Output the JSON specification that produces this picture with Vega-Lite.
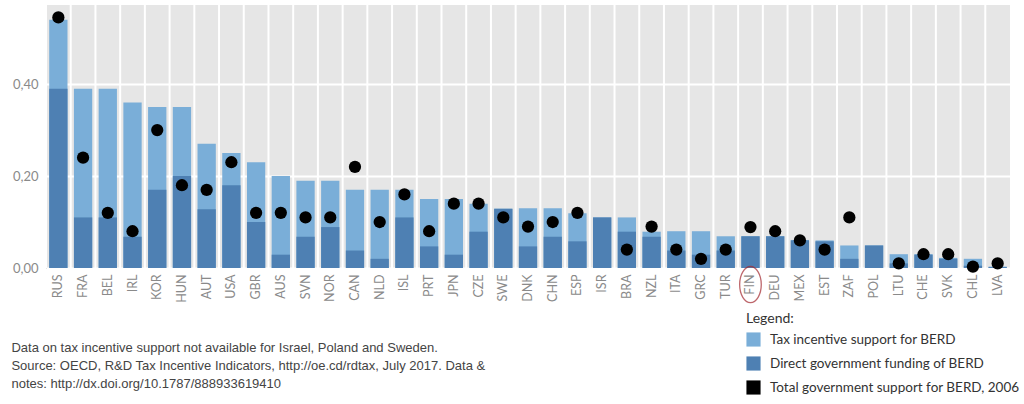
{
  "$schema": "https://vega.github.io/schema/vega-lite/v6.json",
  "autosize": {"type": "none"},
  "width": 964,
  "height": 263,
  "padding": {"left": 46, "top": 5, "right": 14, "bottom": 136},
  "background": "white",
  "config": {
    "view": {"fill": "#e6e6e6", "stroke": null},
    "font": "Lato"
  },
  "title": {
    "text": [
      "Data on tax incentive support not available for Israel, Poland and Sweden.",
      "Source: OECD, R&D Tax Incentive Indicators, http://oe.cd/rdtax, July 2017. Data &",
      "notes: http://dx.doi.org/10.1787/888933619410"
    ],
    "orient": "bottom",
    "anchor": "start",
    "dx": -1,
    "offset": -53,
    "font": "Liberation Sans",
    "fontSize": 13,
    "fontWeight": "normal",
    "color": "#444444",
    "lineHeight": 18
  },
  "data": {
    "values": [
      {"country": "RUS", "bar": 0.54, "direct": 0.39, "total2006": 0.545},
      {"country": "FRA", "bar": 0.39, "direct": 0.11, "total2006": 0.24},
      {"country": "BEL", "bar": 0.39, "direct": 0.11, "total2006": 0.12},
      {"country": "IRL", "bar": 0.36, "direct": 0.068, "total2006": 0.08},
      {"country": "KOR", "bar": 0.35, "direct": 0.17, "total2006": 0.30},
      {"country": "HUN", "bar": 0.35, "direct": 0.20, "total2006": 0.18},
      {"country": "AUT", "bar": 0.27, "direct": 0.128, "total2006": 0.17},
      {"country": "USA", "bar": 0.25, "direct": 0.18, "total2006": 0.23},
      {"country": "GBR", "bar": 0.23, "direct": 0.10, "total2006": 0.12},
      {"country": "AUS", "bar": 0.20, "direct": 0.029, "total2006": 0.12},
      {"country": "SVN", "bar": 0.19, "direct": 0.068, "total2006": 0.11},
      {"country": "NOR", "bar": 0.19, "direct": 0.089, "total2006": 0.11},
      {"country": "CAN", "bar": 0.17, "direct": 0.038, "total2006": 0.22},
      {"country": "NLD", "bar": 0.17, "direct": 0.02, "total2006": 0.10},
      {"country": "ISL", "bar": 0.17, "direct": 0.11, "total2006": 0.16},
      {"country": "PRT", "bar": 0.15, "direct": 0.047, "total2006": 0.08},
      {"country": "JPN", "bar": 0.15, "direct": 0.029, "total2006": 0.14},
      {"country": "CZE", "bar": 0.14, "direct": 0.079, "total2006": 0.14},
      {"country": "SWE", "bar": 0.129, "direct": 0.129, "total2006": 0.11},
      {"country": "DNK", "bar": 0.13, "direct": 0.047, "total2006": 0.09},
      {"country": "CHN", "bar": 0.13, "direct": 0.068, "total2006": 0.10},
      {"country": "ESP", "bar": 0.119, "direct": 0.058, "total2006": 0.12},
      {"country": "ISR", "bar": 0.11, "direct": 0.11, "total2006": null},
      {"country": "BRA", "bar": 0.11, "direct": 0.079, "total2006": 0.04},
      {"country": "NZL", "bar": 0.079, "direct": 0.068, "total2006": 0.09},
      {"country": "ITA", "bar": 0.08, "direct": 0.038, "total2006": 0.04},
      {"country": "GRC", "bar": 0.08, "direct": 0.029, "total2006": 0.02},
      {"country": "TUR", "bar": 0.069, "direct": 0.038, "total2006": 0.04},
      {"country": "FIN", "bar": 0.069, "direct": 0.069, "total2006": 0.089},
      {"country": "DEU", "bar": 0.069, "direct": 0.069, "total2006": 0.08},
      {"country": "MEX", "bar": 0.061, "direct": 0.06, "total2006": 0.06},
      {"country": "EST", "bar": 0.06, "direct": 0.058, "total2006": 0.04},
      {"country": "ZAF", "bar": 0.049, "direct": 0.02, "total2006": 0.11},
      {"country": "POL", "bar": 0.049, "direct": 0.049, "total2006": null},
      {"country": "LTU", "bar": 0.03, "direct": 0.01, "total2006": 0.01},
      {"country": "CHE", "bar": 0.03, "direct": 0.029, "total2006": 0.03},
      {"country": "SVK", "bar": 0.022, "direct": 0.02, "total2006": 0.03},
      {"country": "CHL", "bar": 0.02, "direct": 0.005, "total2006": 0.003},
      {"country": "LVA", "bar": 0.003, "direct": 0.002, "total2006": 0.01}
    ]
  },
  "encoding": {
    "x": {
      "field": "country",
      "type": "nominal",
      "sort": null,
      "title": null,
      "scale": {"paddingInner": 0.26, "paddingOuter": 0.13},
      "axis": {
        "labelAngle": 270,
        "labelColor": "#8a8a8a",
        "labelFontSize": 12.5,
        "labelPadding": 6,
        "ticks": false,
        "domain": false,
        "grid": false
      }
    }
  },
  "layer": [
    {
      "mark": {"type": "rule", "color": "white", "strokeWidth": 2, "xOffset": -3.2},
      "encoding": {
        "x": {"field": "country", "type": "nominal", "sort": null, "bandPosition": 0}
      }
    },
    {
      "mark": {"type": "bar"},
      "encoding": {
        "y": {
          "field": "bar",
          "type": "quantitative",
          "title": null,
          "scale": {"domain": [0, 0.572], "nice": false},
          "axis": {
            "values": [0, 0.2, 0.4],
            "labelExpr": "replace(format(datum.value, '.2f'), '.', ',')",
            "labelColor": "#8a8a8a",
            "labelFontSize": 13,
            "labelPadding": 8,
            "ticks": false,
            "domain": true,
            "domainColor": "#cfcfcf",
            "gridColor": "white",
            "gridWidth": 2,
            "gridOpacity": 1
          }
        },
        "color": {
          "datum": "Tax incentive support for BERD",
          "scale": {
            "domain": ["Tax incentive support for BERD", "Direct government funding of BERD", "Total government support for BERD, 2006"],
            "range": ["#7aaed8", "#4e80b3", "#000000"]
          },
          "legend": {
            "orient": "none",
            "legendX": 700,
            "legendY": 307,
            "title": "Legend:",
            "titleFontSize": 14,
            "titleFontWeight": "normal",
            "titleColor": "#333333",
            "titlePadding": 6,
            "symbolType": "square",
            "symbolSize": 200,
            "symbolStrokeWidth": 0,
            "labelFontSize": 13.5,
            "labelColor": "#333333",
            "labelOffset": 9,
            "labelLimit": 0,
            "rowPadding": 9
          }
        }
      }
    },
    {
      "mark": {"type": "bar"},
      "encoding": {
        "y": {"field": "direct", "type": "quantitative"},
        "color": {"datum": "Direct government funding of BERD"}
      }
    },
    {
      "mark": {"type": "point", "filled": true, "opacity": 1, "size": 150},
      "transform": [{"filter": "isValid(datum.total2006)"}],
      "encoding": {
        "y": {"field": "total2006", "type": "quantitative"},
        "color": {"datum": "Total government support for BERD, 2006"}
      }
    },
    {
      "mark": {
        "type": "point",
        "shape": "M-0.6,0A0.6,1 0 1,0 0.6,0A0.6,1 0 1,0 -0.6,0Z",
        "filled": false,
        "stroke": "#a3282f",
        "strokeWidth": 1.3,
        "size": 1300,
        "clip": false
      },
      "transform": [{"filter": "datum.country === 'FIN'"}],
      "encoding": {
        "y": {"datum": -0.036}
      }
    }
  ]
}
